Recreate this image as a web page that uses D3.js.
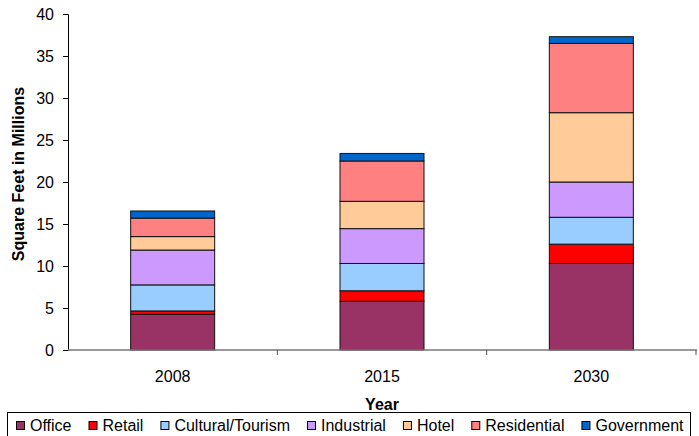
<!DOCTYPE html>
<html>
<head>
<meta charset="utf-8">
<script src="https://cdn.jsdelivr.net/npm/d3@7"></script>
<style>
  body { margin: 0; background: #fff; }
  text { font-family: "Liberation Sans", Arial, sans-serif; fill: #000; }
</style>
</head>
<body>
<svg id="chart" width="699" height="436"></svg>
<script>
// Data
const years = ["2008", "2015", "2030"];
const seriesNames = ["Office", "Retail", "Cultural/Tourism", "Industrial", "Hotel", "Residential", "Government"];
const office = [4.25, 5.8, 10.3];
const retail = [0.4, 1.25, 2.3];
const cultural = [3.1, 3.25, 3.2];
const industrial = [4.15, 4.15, 4.2];
const hotel = [1.6, 3.25, 8.25];
const residential = [2.2, 4.8, 8.25];
const government = [0.85, 0.9, 0.8];
const yTicks = [0, 5, 10, 15, 20, 25, 30, 35, 40];
const colors = ["#993366", "#FF0000", "#99CCFF", "#CC99FF", "#FFCC99", "#FF8080", "#0066CC"];

const seriesValues = [office, retail, cultural, industrial, hotel, residential, government];
const rows = years.map((y, i) => {
  const r = { year: y };
  seriesNames.forEach((s, j) => { r[s] = seriesValues[j][i]; });
  return r;
});

const svg = d3.select("#chart");
const plotL = 68, plotR = 696, plotT = 14, plotB = 350;

const x = d3.scaleBand().domain(years).range([plotL, plotR]).paddingInner(0).paddingOuter(0);
const y = d3.scaleLinear().domain([0, 40]).range([plotB, plotT]);
const color = d3.scaleOrdinal().domain(seriesNames).range(colors);

const stacked = d3.stack().keys(seriesNames)(rows);
const barW = 84;

// bars
svg.append("g").selectAll("g")
  .data(stacked)
  .enter().append("g")
  .attr("fill", d => color(d.key))
  .selectAll("rect")
  .data(d => d)
  .enter().append("rect")
  .attr("x", d => x(d.data.year) + (x.bandwidth() - barW) / 2)
  .attr("y", d => y(d[1]))
  .attr("width", barW)
  .attr("height", d => y(d[0]) - y(d[1]))
  .attr("stroke", "#111")
  .attr("stroke-width", 1);

// y axis
const yAxis = d3.axisLeft(y).tickValues(yTicks).tickSize(5).tickPadding(9);
const gy = svg.append("g").attr("transform", `translate(${plotL},0)`).call(yAxis);
gy.selectAll("text").style("font-size", "16px").attr("font-family", null);
gy.select(".domain").attr("stroke", "#000");
gy.selectAll(".tick line").attr("stroke", "#000");

// x axis (Excel style ticks between categories)
const gx = svg.append("g").attr("transform", `translate(0,${plotB})`);
gx.append("line").attr("x1", plotL).attr("x2", plotR + 1).attr("stroke", "#777").attr("stroke-width", 1.5);
gx.selectAll("line.tk")
  .data(years.slice(1).concat(["end"]))
  .enter().append("line")
  .attr("class", "tk")
  .attr("x1", (d, i) => plotL + x.bandwidth() * (i + 1))
  .attr("x2", (d, i) => plotL + x.bandwidth() * (i + 1))
  .attr("y1", 0).attr("y2", 5)
  .attr("stroke", "#555");
gx.selectAll("text")
  .data(years)
  .enter().append("text")
  .attr("x", d => x(d) + x.bandwidth() / 2)
  .attr("y", 32)
  .attr("text-anchor", "middle")
  .style("font-size", "16px")
  .text(d => d);

// axis titles
svg.append("text")
  .attr("x", 382).attr("y", 410)
  .attr("text-anchor", "middle")
  .style("font-size", "16px").style("font-weight", "bold")
  .text("Year");

svg.append("text")
  .attr("transform", "translate(24,174) rotate(-90)")
  .attr("text-anchor", "middle")
  .style("font-size", "16px").style("font-weight", "bold")
  .text("Square Feet in Millions");

// legend
const lg = svg.append("g");
lg.append("rect")
  .attr("x", 7.5).attr("y", 412.5).attr("width", 683).attr("height", 30)
  .attr("fill", "#fff").attr("stroke", "#000");

let lx = 16;
seriesNames.forEach((s, i) => {
  lg.append("rect")
    .attr("x", lx + 0.5).attr("y", 421.5).attr("width", 8).attr("height", 8)
    .attr("fill", color(s)).attr("stroke", "#000");
  const t = lg.append("text")
    .attr("x", lx + 14).attr("y", 431)
    .style("font-size", "16px")
    .text(s);
  lx += 14 + t.node().getComputedTextLength() + 17;
});
</script>
</body>
</html>
